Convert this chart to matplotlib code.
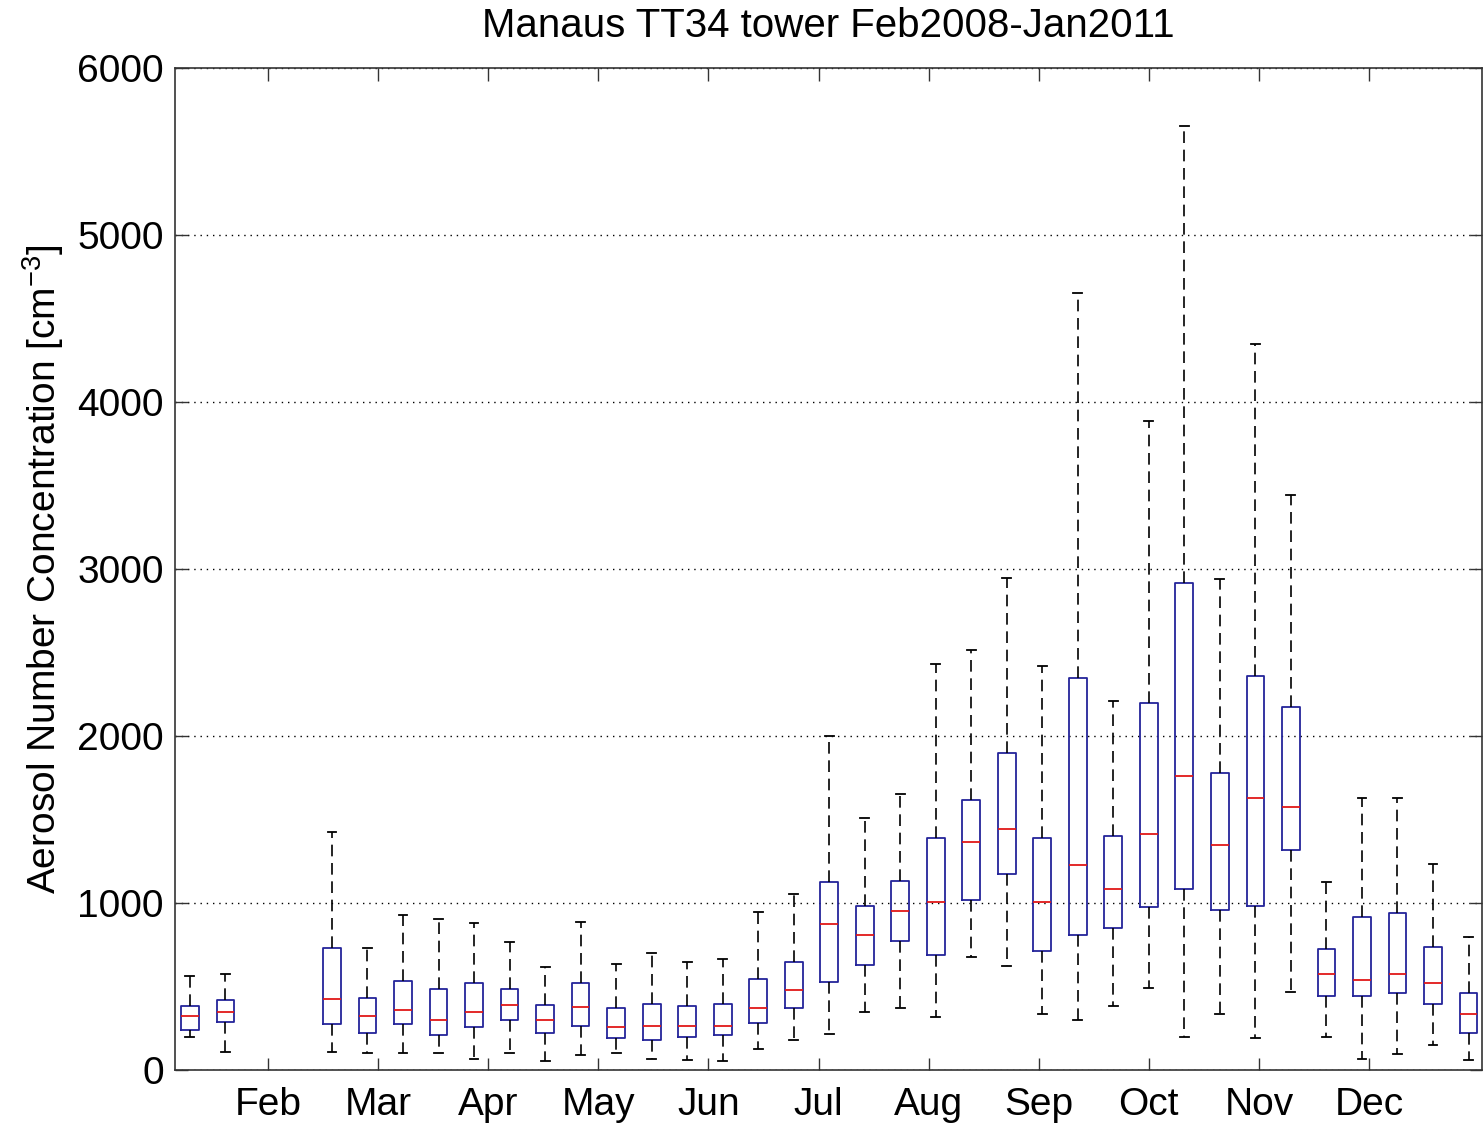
import matplotlib
matplotlib.use("Agg")
import matplotlib.pyplot as plt

plt.rcParams["font.family"] = ["Liberation Sans", "DejaVu Sans"]
plt.rcParams["mathtext.fontset"] = "custom"
plt.rcParams["mathtext.rm"] = "Liberation Sans"
plt.rcParams["mathtext.it"] = "Liberation Sans"

# bin centres (day of year, 10-day bins), bins 3 and 4 have no data
bin_day = [10, 20, 50, 60, 70, 80, 90, 100, 110, 120, 130, 140, 150, 160, 170,
           180, 190, 200, 210, 220, 230, 240, 250, 260, 270, 280, 290, 300,
           310, 320, 330, 340, 350, 360, 370]

whisker_low = [200, 110, 110, 102, 102, 102, 68, 102, 54, 92, 104, 68, 60, 52,
               126, 181, 217, 347, 373, 316, 675, 625, 338, 299, 384, 492, 196,
               336, 189, 465, 196, 65, 98, 148, 60]
q1 = [240, 287, 274, 224, 274, 208, 256, 297, 224, 265, 192, 181, 200, 208,
      281, 371, 527, 627, 774, 690, 1018, 1175, 713, 809, 853, 978, 1083,
      958, 985, 1318, 441, 441, 459, 393, 222]
median = [325, 345, 423, 325, 357, 299, 345, 391, 299, 375, 259, 265, 265, 265,
          373, 479, 872, 807, 954, 1004, 1363, 1445, 1007, 1226, 1083, 1412,
          1762, 1346, 1631, 1572, 573, 536, 573, 518, 338]
q3 = [381, 421, 732, 429, 535, 487, 519, 487, 387, 519, 371, 395, 381, 395,
      543, 649, 1126, 984, 1132, 1389, 1617, 1896, 1392, 2349, 1401, 2196,
      2917, 1780, 2360, 2172, 722, 919, 941, 739, 459]
whisker_high = [565, 575, 1425, 730, 926, 904, 880, 765, 617, 888, 633, 699,
                649, 667, 946, 1052, 2002, 1509, 1653, 2431, 2515, 2946, 2419,
                4651, 2211, 3886, 5653, 2943, 4345, 3443, 1123, 1629, 1629,
                1234, 796]

months = ["Feb", "Mar", "Apr", "May", "Jun", "Jul", "Aug", "Sep", "Oct", "Nov", "Dec"]

stats = []
for i in range(len(bin_day)):
    stats.append({"med": median[i], "q1": q1[i], "q3": q3[i],
                  "whislo": whisker_low[i], "whishi": whisker_high[i], "fliers": []})

fig = plt.figure(figsize=(14.83, 11.24), dpi=100)
ax = fig.add_axes([175 / 1483, 1 - 1070 / 1124, 1307 / 1483, 1002 / 1124])

ax.bxp(stats, positions=bin_day, widths=5, capwidths=2.5, showfliers=False,
       boxprops=dict(color="#24249a", linewidth=1.3),
       medianprops=dict(color="#e01818", linewidth=1.3),
       whiskerprops=dict(color="black", linewidth=1.2, linestyle=(0, (7, 4))),
       capprops=dict(color="black", linewidth=1.3),
       manage_ticks=False)

ax.set_xlim(5.8, 373.8)
ax.set_ylim(0, 6000)
ax.set_yticks([0, 1000, 2000, 3000, 4000, 5000, 6000])
ax.set_xticks([32 + 31 * k for k in range(len(months))])
ax.set_xticklabels(months)

ax.yaxis.grid(True, linestyle=(0, (1, 3.5)), color="black", linewidth=1.0)
ax.set_axisbelow(True)
ax.tick_params(direction="in", length=9, width=1, top=True, right=True,
               labelsize=28, color="#333333")
ax.tick_params(axis="x", pad=12)
ax.tick_params(axis="y", pad=8)
for s in ax.spines.values():
    s.set_color("#333333")
    s.set_linewidth(1.2)

ax.set_title("Manaus TT34 tower Feb2008-Jan2011", fontsize=29, pad=22)
ax.set_ylabel(r"Aerosol Number Concentration [cm$^{-3}$]", fontsize=28, labelpad=8)

fig.savefig("out.png", dpi=100)
